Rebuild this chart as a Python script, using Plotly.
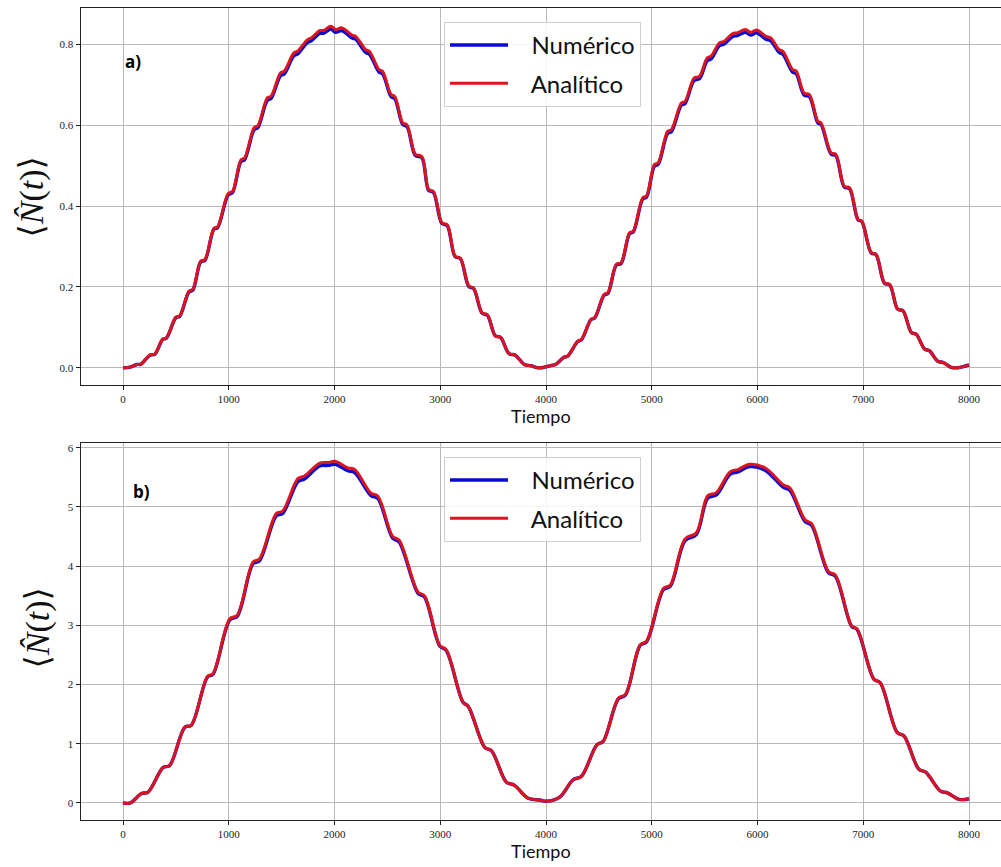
import plotly.graph_objects as go

# ---------------- data ----------------
tiempo_a = [0,60,130,170,255,300,375,410,500,535,625,660,735,775,860,895,995,1035,1115,1150,
            1240,1275,1365,1400,1490,1525,1615,1650,1745,1780,1860,1900,1965,2010,2070,2165,2200,
            2295,2330,2420,2455,2535,2570,2645,2685,2765,2825,2890,2935,3015,3065,3140,3190,3270,
            3315,3395,3445,3520,3570,3650,3710,3795,3855,3920,3960,4055,4090,4170,4205,4300,4335,
            4425,4460,4550,4585,4665,4710,4790,4825,4915,4950,5025,5060,5150,5185,5280,5315,5400,
            5450,5525,5560,5640,5685,5765,5810,5885,5935,5990,6080,6125,6205,6240,6330,6365,6440,
            6490,6570,6600,6695,6740,6820,6870,6950,6985,7075,7120,7200,7250,7325,7375,7455,7500,
            7580,7625,7705,7755,7830,7895,8000]
analitico_a = [0.0,0.001,0.008,0.009,0.032,0.034,0.071,0.074,0.125,0.128,0.190,0.194,0.264,0.268,
               0.345,0.349,0.431,0.436,0.514,0.519,0.594,0.599,0.668,0.672,0.730,0.734,0.779,0.783,
               0.812,0.816,0.834,0.835,0.845,0.837,0.841,0.823,0.820,0.787,0.783,0.738,0.733,0.676,
               0.671,0.606,0.601,0.528,0.523,0.441,0.436,0.359,0.354,0.276,0.271,0.202,0.197,0.136,
               0.131,0.079,0.075,0.035,0.031,0.008,0.005,0.000,0.000,0.006,0.008,0.026,0.029,0.066,
               0.070,0.120,0.124,0.182,0.186,0.256,0.260,0.334,0.338,0.421,0.425,0.503,0.507,0.585,
               0.589,0.655,0.659,0.717,0.721,0.767,0.771,0.804,0.808,0.827,0.829,0.837,0.830,0.836,
               0.820,0.816,0.787,0.783,0.738,0.734,0.680,0.676,0.610,0.606,0.532,0.528,0.449,0.445,
               0.367,0.363,0.285,0.281,0.210,0.206,0.145,0.141,0.087,0.083,0.046,0.042,0.016,0.013,
               0.001,0.000,0.007]
numerico_a = [0.0,0.001,0.008,0.009,0.031,0.033,0.070,0.073,0.124,0.127,0.188,0.192,0.262,0.266,
              0.343,0.347,0.428,0.433,0.510,0.515,0.589,0.594,0.662,0.666,0.723,0.727,0.772,0.776,
              0.805,0.809,0.827,0.828,0.838,0.830,0.834,0.816,0.813,0.780,0.776,0.732,0.727,0.671,
              0.666,0.602,0.597,0.525,0.520,0.439,0.434,0.357,0.352,0.275,0.270,0.201,0.196,0.135,
              0.130,0.079,0.075,0.035,0.031,0.008,0.005,0.000,0.000,0.006,0.008,0.026,0.029,0.065,
              0.069,0.119,0.123,0.180,0.184,0.254,0.258,0.332,0.336,0.418,0.422,0.499,0.503,0.580,
              0.584,0.650,0.654,0.711,0.715,0.760,0.764,0.797,0.801,0.820,0.822,0.830,0.823,0.829,
              0.813,0.809,0.780,0.776,0.732,0.728,0.675,0.671,0.606,0.602,0.529,0.525,0.447,0.443,
              0.366,0.362,0.284,0.280,0.209,0.205,0.145,0.141,0.087,0.083,0.046,0.042,0.016,0.013,
              0.001,0.000,0.007]

tiempo_b = [0,70,175,235,380,440,585,645,800,850,1010,1080,1230,1290,1450,1510,1655,1715,1860,
            1940,2005,2125,2190,2345,2410,2550,2610,2790,2850,2995,3055,3215,3265,3420,3485,3625,
            3700,3830,3940,4005,4130,4255,4335,4480,4540,4685,4750,4890,4950,5110,5175,5315,5420,
            5530,5610,5740,5815,5925,6070,6245,6305,6450,6510,6670,6735,6890,6940,7100,7160,7320,
            7385,7525,7590,7730,7795,7905,8000]
analitico_b = [0.0,0.0,0.16,0.18,0.60,0.63,1.28,1.31,2.14,2.18,3.11,3.17,4.07,4.12,4.89,4.93,5.48,
               5.52,5.74,5.75,5.77,5.66,5.63,5.23,5.18,4.50,4.44,3.56,3.50,2.66,2.59,1.70,1.63,0.94,
               0.88,0.35,0.30,0.08,0.05,0.03,0.10,0.39,0.45,0.98,1.04,1.77,1.83,2.67,2.73,3.62,3.68,
               4.46,4.56,5.19,5.24,5.59,5.63,5.72,5.66,5.37,5.32,4.78,4.72,3.91,3.85,2.99,2.94,2.09,
               2.03,1.19,1.13,0.57,0.52,0.20,0.17,0.06,0.07]
numerico_b = [0.0,0.0,0.16,0.18,0.60,0.63,1.28,1.31,2.13,2.17,3.09,3.15,4.04,4.09,4.85,4.89,5.43,
              5.47,5.69,5.70,5.72,5.61,5.58,5.19,5.14,4.47,4.41,3.54,3.48,2.65,2.58,1.70,1.63,0.94,
              0.88,0.35,0.30,0.08,0.05,0.03,0.10,0.39,0.45,0.98,1.04,1.76,1.82,2.66,2.72,3.60,3.66,
              4.43,4.53,5.15,5.20,5.55,5.59,5.68,5.62,5.33,5.28,4.75,4.69,3.89,3.83,2.98,2.93,2.09,
              2.03,1.19,1.13,0.57,0.52,0.20,0.17,0.06,0.07]

xticks = [0, 1000, 2000, 3000, 4000, 5000, 6000, 7000, 8000]
yticks_a = [0.0, 0.2, 0.4, 0.6, 0.8]
ytick_text_a = ["0.0", "0.2", "0.4", "0.6", "0.8"]
yticks_b = [0, 1, 2, 3, 4, 5, 6]

assert len(tiempo_a) == len(analitico_a) == len(numerico_a)
assert len(tiempo_b) == len(analitico_b) == len(numerico_b)

BLUE = "#0a0ad2"
RED = "#dc141e"
GRID = "#b8b8b8"
SERIF = "Liberation Serif, DejaVu Serif, serif"
SANS = "Lato, DejaVu Sans, sans-serif"
NB = "\u00a0\u00a0\u00a0"

fig = go.Figure()
for (xs, yn, ya, xa, yax, lg) in [
    (tiempo_a, numerico_a, analitico_a, "x", "y", "legend"),
    (tiempo_b, numerico_b, analitico_b, "x2", "y2", "legend2"),
]:
    fig.add_trace(go.Scatter(x=xs, y=yn, mode="lines", name=NB + "Numérico",
                             legendgroup=lg + "n",
                             line=dict(color=BLUE, width=3.4, shape="spline", smoothing=1.0),
                             xaxis=xa, yaxis=yax, legend=lg))
    fig.add_trace(go.Scatter(x=xs, y=ya, mode="lines", name=NB + "Analítico",
                             legendgroup=lg + "a",
                             line=dict(color=RED, width=3.0, shape="spline", smoothing=1.0),
                             xaxis=xa, yaxis=yax, legend=lg))

W, H = 1001, 867
left = 80.7 / W

def xax(anchor):
    return dict(domain=[left, 1.0], range=[-400, 8302], anchor=anchor,
                tickmode="array", tickvals=xticks, ticktext=[str(t) for t in xticks],
                showgrid=True, gridcolor=GRID, gridwidth=1, zeroline=False,
                showline=True, linecolor="#222", linewidth=1.3, mirror=True,
                ticks="outside", ticklen=4, tickcolor="#222",
                tickfont=dict(family=SERIF, size=11, color="#222"),
                title=dict(text="Tiempo", font=dict(family=SANS, size=18, color="#111"), standoff=4))

def leg(ytop):
    return dict(x=444 / W, y=1 - ytop / H, xanchor="left", yanchor="top",
                bgcolor="rgba(255,255,255,0.85)", bordercolor="#d0d0d0", borderwidth=1,
                font=dict(family=SANS, size=24, color="#111"), itemwidth=58,
                tracegroupgap=4)

fig.update_layout(
    width=W, height=H,
    margin=dict(l=0, r=0, t=0, b=0),
    paper_bgcolor="white", plot_bgcolor="white",
    xaxis=xax("y"),
    yaxis=dict(domain=[1 - 384 / H, 1 - 5.7 / H], range=[-0.043, 0.891], anchor="x",
               tickmode="array", tickvals=yticks_a, ticktext=ytick_text_a,
               showgrid=True, gridcolor=GRID, gridwidth=1, zeroline=False,
               showline=True, linecolor="#222", linewidth=1.3, mirror=False,
               ticks="outside", ticklen=4, tickcolor="#222",
               tickfont=dict(family=SERIF, size=11, color="#222")),
    xaxis2=xax("y2"),
    yaxis2=dict(domain=[1 - 820 / H, 1 - 442.3 / H], range=[-0.29, 6.074], anchor="x2",
                tickmode="array", tickvals=yticks_b, ticktext=[str(t) for t in yticks_b],
                showgrid=True, gridcolor=GRID, gridwidth=1, zeroline=False,
                showline=True, linecolor="#222", linewidth=1.3, mirror=False,
                ticks="outside", ticklen=4, tickcolor="#222",
                tickfont=dict(family=SERIF, size=11, color="#222")),
    legend=leg(20),
    legend2=leg(456),
    showlegend=True,
)

ylabel = "⟨<i>N̂</i>(<i>t</i>)⟩"
for (xc, yc) in [(32, 196), (38, 628)]:
    fig.add_annotation(text=ylabel, xref="paper", yref="paper", x=xc / W, y=1 - yc / H,
                       xanchor="center", yanchor="middle",
                       textangle=-90, showarrow=False,
                       font=dict(family=SERIF, size=34, color="#111"))
for (txt, xc, yc) in [("<b>a)</b>", 133, 60), ("<b>b)</b>", 141, 491)]:
    fig.add_annotation(text=txt, xref="paper", yref="paper", x=xc / W, y=1 - yc / H,
                       xanchor="center", yanchor="middle", showarrow=False,
                       font=dict(family="Open Sans, DejaVu Sans, sans-serif", size=17, color="#000"))

fig.write_html("out.html")
